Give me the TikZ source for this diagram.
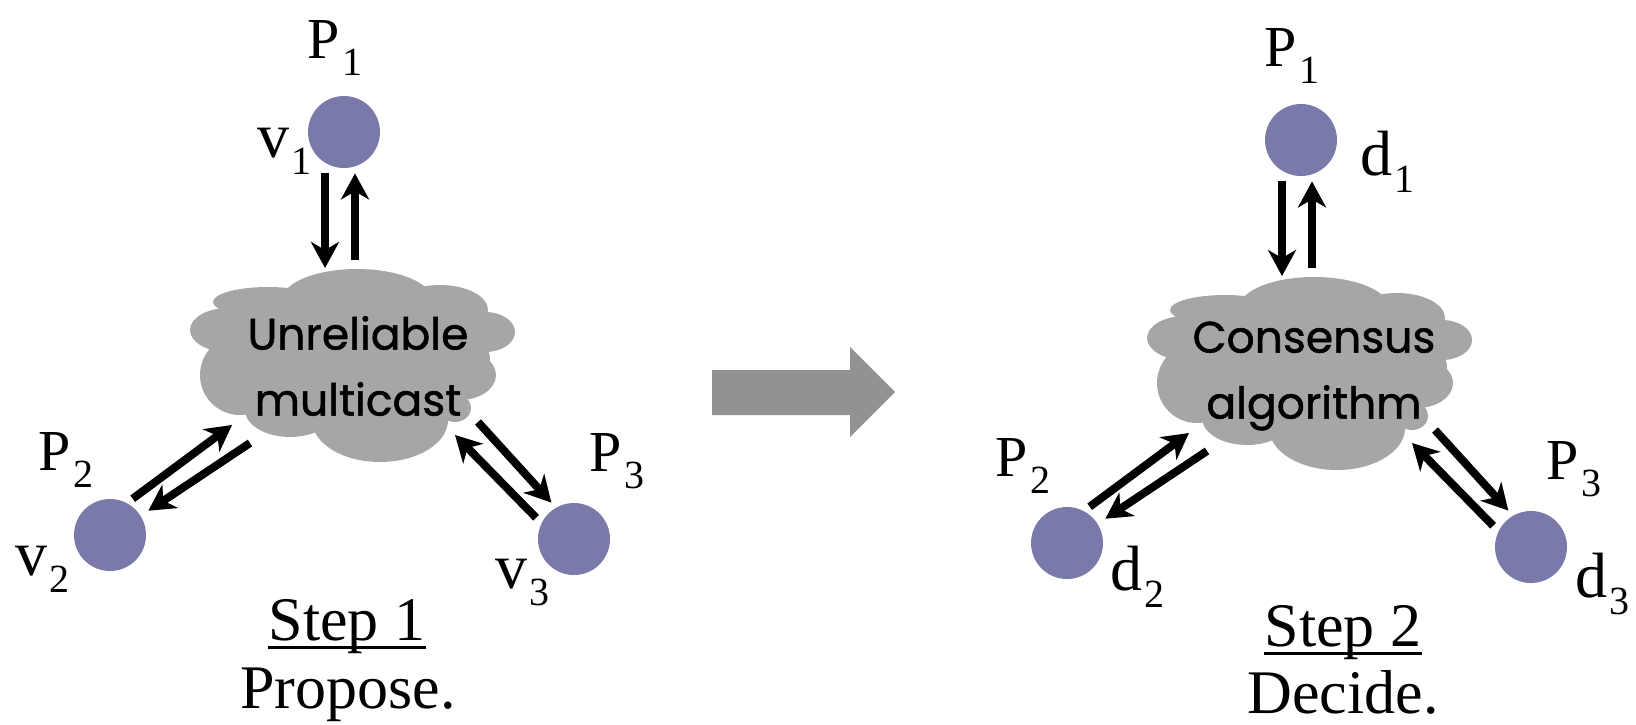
\documentclass[tikz,border=0pt]{standalone}
\usepackage{fontspec}
\setmainfont{Liberation Serif}
\newfontfamily\cloudfont[FakeBold=1.2]{Poppins}
\usetikzlibrary{arrows.meta}
\definecolor{ProcBlue}{HTML}{7A7AAA}
\definecolor{CloudGrey}{HTML}{A6A6A6}
\definecolor{ShiftGrey}{HTML}{929292}

\tikzset{
  proc/.style={circle, fill=ProcBlue, minimum size=36pt, inner sep=0pt},
  msg/.style={-{Stealth[length=13pt, width=14pt, inset=4pt]}, line width=4pt},
  pname/.style={anchor=base west, inner sep=0pt, font=\fontsize{29}{31}\selectfont},
  pval/.style={anchor=base west, inner sep=0pt, font=\fontsize{32}{34}\selectfont},
  netlabel/.style={align=center, inner sep=0pt, font=\cloudfont\fontsize{22}{33}\selectfont},
  steplabel/.style={anchor=base, inner sep=0pt, font=\fontsize{31}{33}\selectfont},
}
\newcommand{\idx}[1]{\raisebox{-8.5pt}{\fontsize{20}{22}\selectfont #1}}

\begin{document}
\begin{tikzpicture}[x=0.5pt, y=-0.5pt]
  \useasboundingbox (0,0) rectangle (1636,724);
  % the two clouds (same outline, second one shifted)
  \foreach \dx/\dy in {0/0, 957/8} {
    \begin{scope}[shift={(\dx,\dy)}]
      \fill[CloudGrey] (352,360) ellipse [x radius=138, y radius=65];
      \fill[CloudGrey] (357,300) ellipse [x radius=75, y radius=31];
      \fill[CloudGrey] (268,302) ellipse [x radius=55, y radius=15];
      \fill[CloudGrey] (440,310) ellipse [x radius=48, y radius=25];
      \fill[CloudGrey] (228,330) ellipse [x radius=38, y radius=22];
      \fill[CloudGrey] (485,332) ellipse [x radius=30, y radius=20];
      \fill[CloudGrey] (240,375) ellipse [x radius=40, y radius=40];
      \fill[CloudGrey] (460,375) ellipse [x radius=36, y radius=25];
      \fill[CloudGrey] (455,408) ellipse [x radius=16, y radius=14];
      \fill[CloudGrey] (290,410) ellipse [x radius=45, y radius=27];
      \fill[CloudGrey] (380,420) ellipse [x radius=68, y radius=42];
    \end{scope}
  }
  \node[netlabel] (anet) at (358,366) {Unreliable\\multicast};
  \node[netlabel] (bnet) at (1314,376) {Consensus\\algorithm};

  % step 1: processes
  \node[proc] (a1) at (344,132) {};
  \node[proc] (a2) at (110,535) {};
  \node[proc] (a3) at (574,539) {};
  \node[pname] (a1name) at (307,58) {P\kern1.5pt\idx{1}};
  \node[pval] (a1val) at (257,157) {v\kern1pt\idx{1}};
  \node[pname] (a2name) at (38,470) {P\kern1.5pt\idx{2}};
  \node[pval] (a2val) at (15,575) {v\kern1pt\idx{2}};
  \node[pname] (a3name) at (589,471) {P\kern1.5pt\idx{3}};
  \node[pval] (a3val) at (495,588) {v\kern1pt\idx{3}};

  % step 1: cloud ends of the messages
  \coordinate (a1to) at (325,268);
  \coordinate (a1fro) at (355,260);
  \coordinate (a2to) at (232,425);
  \coordinate (a2fro) at (250,443);
  \coordinate (a3to) at (455,435);
  \coordinate (a3fro) at (478,422);
  \draw[msg, shorten <=2.5pt] ([xshift=-9.5pt]a1.south) -- (a1to);
  \draw[msg, shorten >=2.5pt] (a1fro) -- ([xshift=5.5pt]a1.south);
  \draw[msg, shorten <=3.5pt] (a2.62) -- (a2to);
  \draw[msg, shorten >=4.5pt] (a2fro) -- (a2.32);
  \draw[msg, shorten <=3.7pt] (a3.154) -- (a3to);
  \draw[msg, shorten >=3.3pt] (a3fro) -- (a3.120);

  % step 2: processes
  \node[proc] (b1) at (1301,140) {};
  \node[proc] (b2) at (1067,543) {};
  \node[proc] (b3) at (1531,547) {};
  \node[pname] (b1name) at (1264,66) {P\kern1.5pt\idx{1}};
  \node[pval] (b1val) at (1360,175) {d\kern1pt\idx{1}};
  \node[pname] (b2name) at (995,476) {P\kern1.5pt\idx{2}};
  \node[pval] (b2val) at (1110,590) {d\kern1pt\idx{2}};
  \node[pname] (b3name) at (1546,479) {P\kern1.5pt\idx{3}};
  \node[pval] (b3val) at (1575,597) {d\kern1pt\idx{3}};

  % step 2: cloud ends of the messages
  \coordinate (b1to) at (1282,276);
  \coordinate (b1fro) at (1312,268);
  \coordinate (b2to) at (1189,433);
  \coordinate (b2fro) at (1207,451);
  \coordinate (b3to) at (1412,443);
  \coordinate (b3fro) at (1435,430);
  \draw[msg, shorten <=2.5pt] ([xshift=-9.5pt]b1.south) -- (b1to);
  \draw[msg, shorten >=2.5pt] (b1fro) -- ([xshift=5.5pt]b1.south);
  \draw[msg, shorten <=3.5pt] (b2.62) -- (b2to);
  \draw[msg, shorten >=4.5pt] (b2fro) -- (b2.32);
  \draw[msg, shorten <=3.7pt] (b3.154) -- (b3to);
  \draw[msg, shorten >=3.3pt] (b3fro) -- (b3.120);

  % big arrow between the steps
  \fill[ShiftGrey] (712,370) -- (850,370) -- (850,347) -- (895,392)
    -- (850,437) -- (850,415) -- (712,415) -- cycle;

  % captions
  \node[steplabel] (s1) at (347,640) {Step 1};
  \draw[line width=1.5pt] ([yshift=-3.5pt]s1.base west) -- ([yshift=-3.5pt]s1.base east);
  \node[steplabel] (s1what) at (348,708) {Propose.};
  \node[steplabel] (s2) at (1343,646) {Step 2};
  \draw[line width=1.5pt] ([yshift=-3.5pt]s2.base west) -- ([yshift=-3.5pt]s2.base east);
  \node[steplabel] (s2what) at (1343,713) {Decide.};
\end{tikzpicture}
\end{document}
